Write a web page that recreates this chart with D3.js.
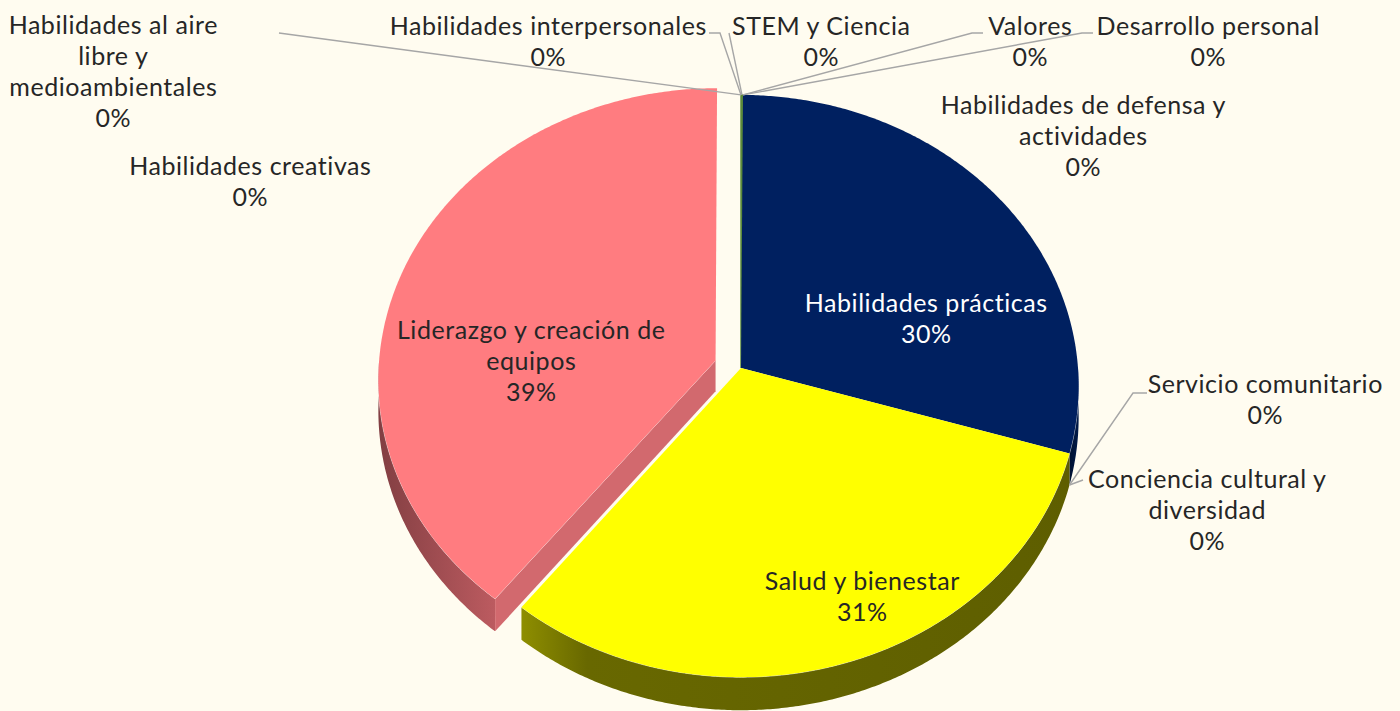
<!DOCTYPE html>
<html>
<head>
<meta charset="utf-8">
<script src="https://cdn.jsdelivr.net/npm/d3@7"></script>
<style>
html, body { margin: 0; padding: 0; background: #FFFCF0; }
svg { display: block; font-family: Lato, "Noto Sans", sans-serif; }
</style>
</head>
<body>
<script>
// data (clockwise from 12 o'clock)
var categories = ["STEM y Ciencia", "Valores", "Desarrollo personal", "Habilidades de defensa y actividades",
  "Habilidades prácticas", "Servicio comunitario", "Conciencia cultural y diversidad", "Salud y bienestar",
  "Liderazgo y creación de equipos", "Habilidades creativas", "Habilidades al aire libre y medioambientales",
  "Habilidades interpersonales"];
var values = [0.1, 0, 0, 0, 29.6, 0, 0, 31, 39.4, 0, 0, 0];

// styles
var colors = ["#5B8A3A", "#A5A5A5", "#FFC000", "#4472C4", "#002060", "#70AD47", "#264478", "#FFFF00", "#FF7C80", "#9E480E", "#636363", "#997300"];
var explode = [0, 0, 0, 0, 0, 0, 0, 0, 0.08, 0, 0, 0];
var labelColor = ["#262626", "#262626", "#262626", "#262626", "#FFFFFF", "#262626", "#262626", "#262626", "#262626", "#262626", "#262626", "#262626"];
var sideShade = {"#FF7C80": ["#823E42", "#BC5B60"], "#FFFF00": ["#8E8E00", "#5E5E00"], "#002060": ["#00112F", "#001A4A"], "#5B8A3A": ["#2F4A1E", "#3D5F27"]};
var faceShade = {"#FF7C80": "#D2696E", "#FFFF00": "#7A7A00", "#002060": "#00143C", "#5B8A3A": "#3D5F27"};

// label layout: [center x, first line center y], wrap width, leader points (label side)
var labelPos = [[821, 26], [1030, 26], [1208, 26], [1083, 105], [926, 303], [1265, 384], [1207, 479], [862, 581], [531, 330], [250, 166], [113, 25], [548, 26]];
var labelWrap = [400, 400, 400, 295, 400, 400, 255, 400, 285, 400, 226, 400];
var leaders = [[[729, 33]], [[972, 33], [983, 33]], [[1082, 33], [1093, 33]], null, null,
  [[1133, 393], [1147, 393]], [[1083, 480]], null, null, null, [[279, 33]], [[720, 33], [709, 33]]];

var width = 1400, height = 711;
var cx = 741, cy = 368, rx = 337, ry = 290, persp = 0.062, depth = 31;
var fontSize = 25, letterSp = 0.55, lineH = 31;

var svg = d3.select("body").append("svg").attr("width", width).attr("height", height);
svg.append("rect").attr("width", width).attr("height", height).attr("fill", "#FFFCF0");
var defs = svg.append("defs");

var total = d3.sum(values);
var arcs = d3.pie().sort(null).value(function(d) { return d; }).startAngle(0).endAngle(2 * Math.PI)(values);

//projects a point of the tilted disc onto the screen
function proj(theta, r, h, off) {
  var u = r * Math.sin(theta) + off[0];
  var v = r * Math.cos(theta) + off[1];
  var s = 1 / (1 + persp * v);
  return [cx + rx * u * s, cy - ry * v * s + depth * h * s];
}
function arcPts(a0, a1, h, off) {
  var n = Math.max(2, Math.ceil(Math.abs(a1 - a0) / 0.008));
  var pts = [];
  for (var i = 0; i <= n; i++) pts.push(proj(a0 + (a1 - a0) * i / n, 1, h, off));
  return pts;
}
var line = d3.line();

arcs.forEach(function(a, i) {
  var mid = (a.startAngle + a.endAngle) / 2;
  a.off = [explode[i] * Math.sin(mid), explode[i] * Math.cos(mid)];
  a.color = colors[i];
});

var sides = svg.append("g");
var tops = svg.append("g");

//outer sides (front half only)
arcs.forEach(function(a, i) {
  var s0 = Math.max(a.startAngle, Math.PI / 2), s1 = Math.min(a.endAngle, 3 * Math.PI / 2);
  if (s1 - s0 <= 0.0005) return;
  var topArc = arcPts(s0, s1, 0, a.off);
  var botArc = arcPts(s1, s0, 1, a.off);
  var shade = sideShade[a.color] || ["#444", "#555"];
  var gid = "side" + i;
  var g = defs.append("linearGradient").attr("id", gid).attr("x1", "0").attr("x2", "1").attr("y1", "0").attr("y2", "0");
  if (a.color == "#FFFF00") {
    g.append("stop").attr("offset", "0").attr("stop-color", shade[0]);
    g.append("stop").attr("offset", "0.12").attr("stop-color", "#686800");
    g.append("stop").attr("offset", "1").attr("stop-color", shade[1]);
  } else {
    g.append("stop").attr("offset", "0").attr("stop-color", shade[0]);
    g.append("stop").attr("offset", "1").attr("stop-color", shade[1]);
  }
  sides.append("path").attr("d", line(topArc.concat(botArc)) + "Z").attr("fill", "url(#" + gid + ")");
  sides.append("path").attr("d", line(topArc)).attr("fill", "none").attr("stroke", "#FFFFFF").attr("stroke-opacity", 0.6).attr("stroke-width", 1);
});

//cut faces of exploded slices
arcs.forEach(function(a, i) {
  if (!explode[i]) return;
  var faces = [];
  if (Math.sin(a.startAngle) < 0) faces.push(a.startAngle);
  if (Math.sin(a.endAngle) > 0) faces.push(a.endAngle);
  faces.forEach(function(t) {
    var pts = [proj(t, 0, 0, a.off), proj(t, 1, 0, a.off), proj(t, 1, 1, a.off), proj(t, 0, 1, a.off)];
    sides.append("path").attr("d", line(pts) + "Z").attr("fill", faceShade[a.color]);
    sides.append("path").attr("d", line(pts.slice(0, 2))).attr("stroke", "#FFFFFF").attr("stroke-opacity", 0.6).attr("stroke-width", 1);
  });
});

//top surfaces
arcs.forEach(function(a, i) {
  if (a.endAngle - a.startAngle <= 0) return;
  var pts = [proj(0, 0, 0, a.off)].concat(arcPts(a.startAngle, a.endAngle, 0, a.off));
  tops.append("path").attr("d", line(pts) + "Z").attr("fill", a.color)
    .attr("stroke", a.endAngle - a.startAngle < 0.01 ? a.color : "none").attr("stroke-width", 1.5);
});

//leader lines
var leaderG = svg.append("g");
arcs.forEach(function(a, i) {
  if (!leaders[i]) return;
  var mid = (a.startAngle + a.endAngle) / 2;
  var h = Math.cos(mid) < 0 ? 1 : 0;
  var anchor = proj(mid, 1, h, a.off);
  leaderG.append("path").attr("d", line([anchor].concat(leaders[i])))
    .attr("fill", "none").attr("stroke", "#A6A6A6").attr("stroke-width", 1.4);
});

//labels
var labelG = svg.append("g").attr("font-size", fontSize).attr("letter-spacing", letterSp).attr("text-anchor", "middle");
arcs.forEach(function(a, i) {
  var t = labelG.append("text").attr("fill", labelColor[i]);
  var words = categories[i].split(" ");
  var lines = [], cur = "";
  var probe = labelG.append("text");
  words.forEach(function(w) {
    var test = cur ? cur + " " + w : w;
    probe.text(test);
    if (cur && probe.node().getComputedTextLength() > labelWrap[i]) { lines.push(cur); cur = w; }
    else cur = test;
  });
  lines.push(cur);
  probe.remove();
  lines.push(Math.round(values[i] / total * 100) + "%");
  lines.forEach(function(l, k) {
    t.append("tspan").attr("x", labelPos[i][0] + letterSp / 2).attr("y", labelPos[i][1] + k * lineH + fontSize * 0.36).text(l);
  });
});
</script>
</body>
</html>
